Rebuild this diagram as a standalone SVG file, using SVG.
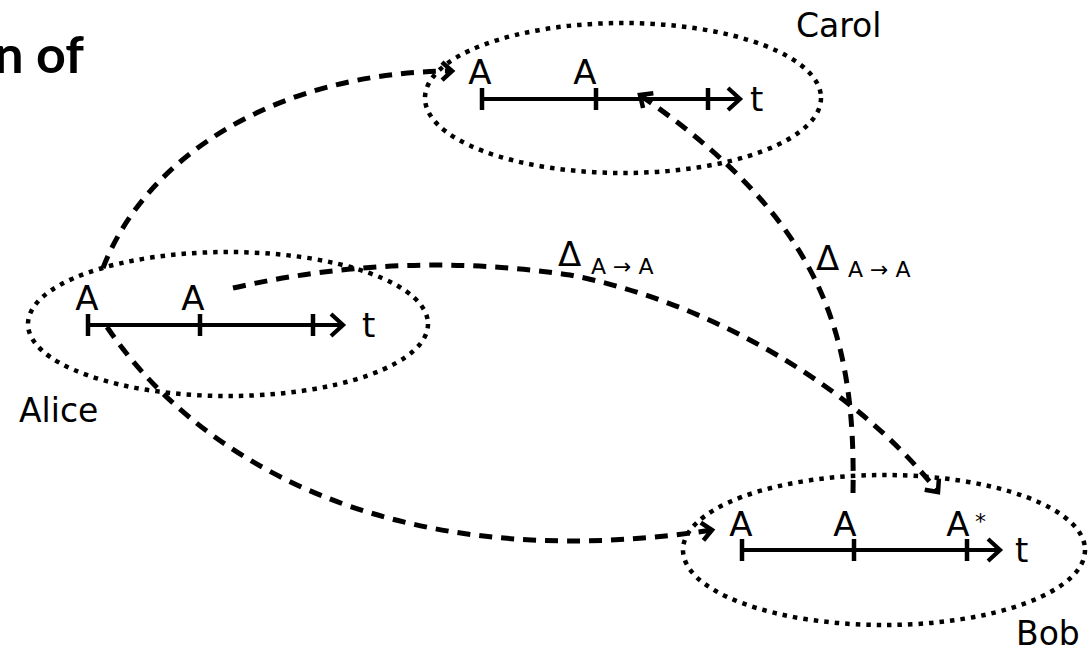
<svg xmlns="http://www.w3.org/2000/svg" width="1088" height="652" viewBox="0 0 1088 652">
<style>
.bg{fill:#fff}
.oval{fill:none;stroke:#000;stroke-width:4.5;stroke-dasharray:4.5 6}
.tl{fill:none;stroke:#000;stroke-width:4}
.tick{stroke:#000;stroke-width:4.5}
.conn{fill:none;stroke:#000;stroke-width:5;stroke-dasharray:13 9}
.lbl{font-family:"DejaVu Sans",sans-serif;font-size:34px;fill:#000}
.name{font-family:"DejaVu Sans",sans-serif;font-size:33px;fill:#000}
.big{font-family:"DejaVu Sans",sans-serif;font-size:34px;fill:#000}
.sub{font-family:"DejaVu Sans",sans-serif;font-size:22px;fill:#000}
.title{font-family:Lato,"Liberation Sans",sans-serif;font-weight:bold;font-size:52px;fill:#000}
</style>
<defs>
<marker id="tip" markerUnits="userSpaceOnUse" viewBox="-20 -20 40 40" refX="0" refY="0" markerWidth="40" markerHeight="40" orient="auto" overflow="visible">
<path d="M-12,-11 L0,0 L-12,11" fill="none" stroke="#000" stroke-width="4.2" stroke-dasharray="none"/>
</marker>
<marker id="ctip" markerUnits="userSpaceOnUse" viewBox="-20 -20 40 40" refX="0" refY="0" markerWidth="40" markerHeight="40" orient="auto" overflow="visible">
<path d="M-10,-9 L0,0 L-10,9" fill="none" stroke="#000" stroke-width="4.5" stroke-dasharray="none"/>
</marker>
</defs>
<rect class="bg" x="0" y="0" width="1088" height="652"/>
<text class="title" x="84" y="73" text-anchor="end">n of</text>

<g id="carol">
<ellipse class="oval" cx="623" cy="98" rx="198" ry="75"/>
<line class="tl" x1="482" y1="99" x2="740" y2="99" marker-end="url(#tip)"/>
<line class="tick" x1="482" y1="88" x2="482" y2="110"/>
<line class="tick" x1="596" y1="88" x2="596" y2="110"/>
<line class="tick" x1="708" y1="88" x2="708" y2="110"/>
<text class="lbl" x="480" y="84" text-anchor="middle">A</text>
<text class="lbl" x="585" y="84" text-anchor="middle">A</text>
<text class="lbl" x="750" y="111">t</text>
<text class="name" x="796" y="37">Carol</text>
</g>

<g id="alice">
<ellipse class="oval" cx="228" cy="324" rx="200" ry="72"/>
<line class="tl" x1="88" y1="325" x2="343" y2="325" marker-end="url(#tip)"/>
<line class="tick" x1="88" y1="314" x2="88" y2="336"/>
<line class="tick" x1="200" y1="314" x2="200" y2="336"/>
<line class="tick" x1="313" y1="314" x2="313" y2="336"/>
<text class="lbl" x="87" y="310" text-anchor="middle">A</text>
<text class="lbl" x="193" y="310" text-anchor="middle">A</text>
<text class="lbl" x="362" y="337">t</text>
<text class="name" x="19" y="422">Alice</text>
</g>

<g id="bob">
<ellipse class="oval" cx="884" cy="550" rx="201" ry="75"/>
<line class="tl" x1="742" y1="550" x2="1000" y2="550" marker-end="url(#tip)"/>
<line class="tick" x1="742" y1="539" x2="742" y2="561"/>
<line class="tick" x1="854" y1="539" x2="854" y2="561"/>
<line class="tick" x1="967" y1="539" x2="967" y2="561"/>
<text class="lbl" x="741" y="536" text-anchor="middle">A</text>
<text class="lbl" x="845" y="536" text-anchor="middle">A</text>
<text class="lbl" x="958" y="536" text-anchor="middle">A</text>
<text class="sub" x="975" y="529">*</text>
<text class="lbl" x="1015" y="562">t</text>
<text class="name" x="1016" y="645">Bob</text>
</g>

<g id="connectors">
<path class="conn" d="M103,268 C145,158 275,72 452,71" marker-end="url(#ctip)"/>
<path class="conn" d="M233,288 Q400,250 570,275 C700,300 850,380 938,492" marker-end="url(#ctip)"/>
<path class="conn" d="M107,327 C190,450 380,580 712,530" marker-end="url(#ctip)"/>
<path class="conn" d="M853,493 C856,330 820,220 640,95" marker-end="url(#ctip)"/>
</g>

<g id="labels">
<text class="big" x="558" y="266">Δ</text>
<text class="sub" x="591" y="274">A → A</text>
<text class="big" x="816" y="270">Δ</text>
<text class="sub" x="848" y="277">A → A</text>
</g>
</svg>
